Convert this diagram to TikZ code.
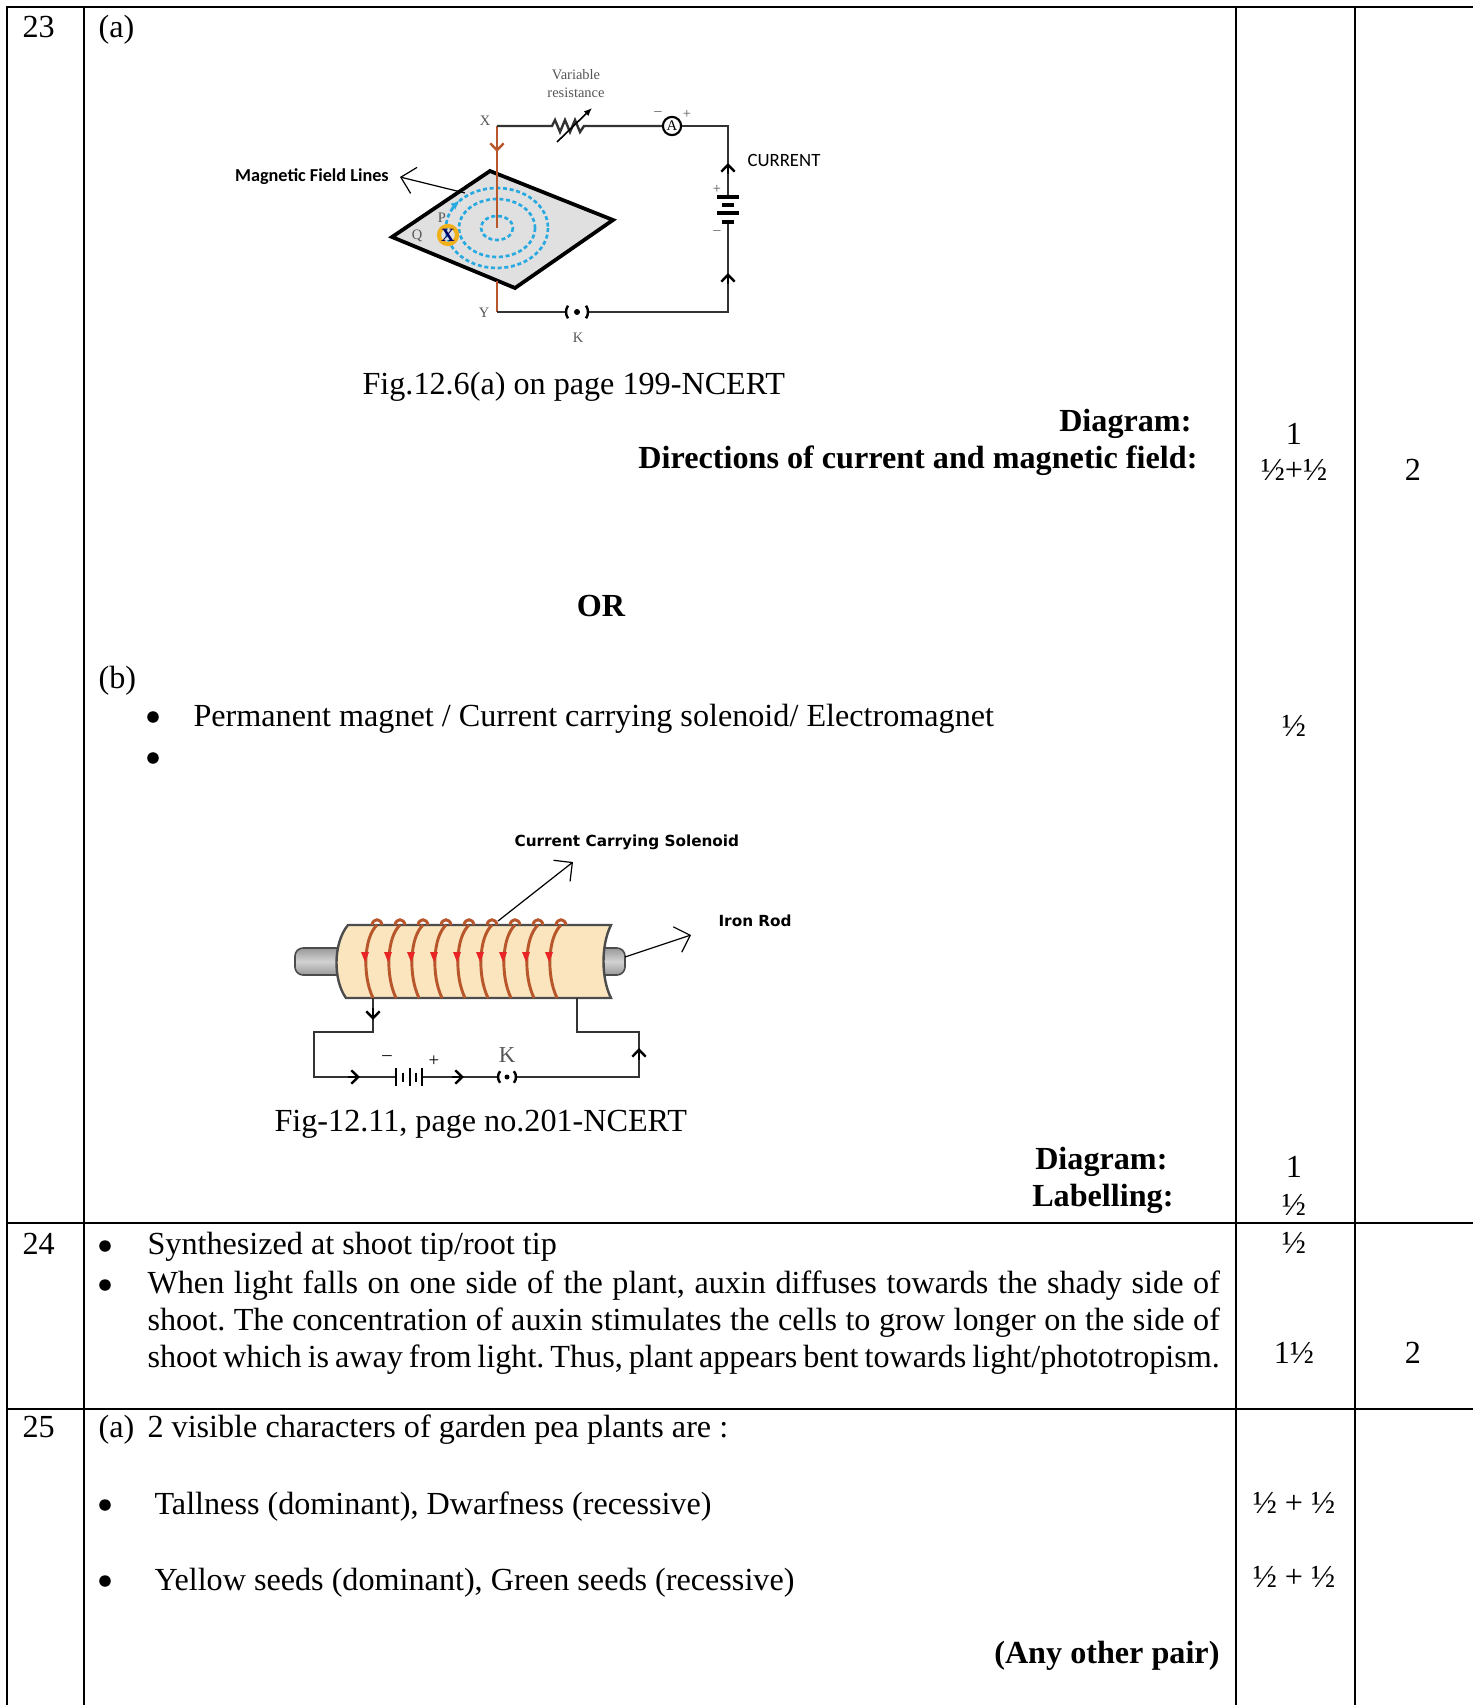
\documentclass[tikz,border=0pt]{standalone}
\usepackage{fontspec}
\setmainfont{Liberation Serif}
\newfontfamily\labelsans{Carlito}
\newfontfamily\figsans{DejaVu Sans}
\usetikzlibrary{arrows.meta}
\frenchspacing

\definecolor{wirebrown}{RGB}{184,86,44}
\definecolor{fieldblue}{RGB}{40,170,225}
\definecolor{planegray}{RGB}{224,224,224}
\definecolor{ringgold}{RGB}{240,176,28}
\definecolor{coretan}{RGB}{250,229,190}
\definecolor{coilred}{RGB}{232,36,36}
\definecolor{inkgray}{RGB}{85,85,85}

\tikzset{
  rule/.style={line width=1pt},
  wire/.style={line width=0.9pt, black!80},
  tag/.style={font=\fontsize{5.4}{6.7}\selectfont, text=inkgray, inner sep=0pt},
  flow/.style={-{Straight Barb[length=2.6pt,width=5pt]}, line width=0.9pt},
  lead/.style={line width=0.45pt, -{Straight Barb[length=5pt,width=10pt]}},
  cell/.style={anchor=base, inner sep=0pt},
  lefttext/.style={anchor=base west, inner sep=0pt},
  bulletdot/.style={circle, fill, minimum size=4.3pt, inner sep=0pt},
  boldright/.style={anchor=base east, inner sep=0pt, font=\fontsize{12}{14}\selectfont\bfseries},
}

\begin{document}
\begin{tikzpicture}[x=0.373pt, y=-0.373pt, font=\fontsize{12}{14}\selectfont]
\useasboundingbox (0,0) rectangle (1473,1705);

% Draw table rules
\draw[rule] (7,1705) -- (7,7) -- (1473,7);
\foreach \x in {84,1236,1355}
  \draw[rule] (\x,7) -- (\x,1705);
\foreach \y in {1223,1409}
  \draw[rule] (7,\y) -- (1473,\y);

% Draw question numbers
\node[lefttext] (q23) at (22,38) {23};
\node[lefttext] (q24) at (22,1254) {24};
\node[lefttext] (q25) at (22,1437) {25};

% Part (a)
\node[lefttext] (parta) at (98,38) {(a)};

% Draw the plane and field lines
\coordinate (X) at (497,126);
\coordinate (Y) at (497,312);
\coordinate (TR) at (728,126);
\coordinate (BR) at (728,312);
\draw[line width=1.4pt, fill=planegray] (392,237) -- (490,171) -- (613,220) -- (515,288) -- cycle;
\foreach \rx/\ry in {16/12, 38/29, 51/40}
  \draw[fieldblue, line width=1pt, dash pattern=on 1.5pt off 1pt] (497,228) ellipse[x radius=\rx, y radius=\ry];
\draw[fieldblue, line width=1pt, -{Latex[length=3pt,width=3pt]}] (497,228) ++(208:51 and 40) arc[start angle=208, end angle=222, x radius=51, y radius=40];

% Draw the straight conductor
\draw[wirebrown, line width=1.1pt] (X) -- (497,228);
\draw[wirebrown, line width=1.1pt] (497,281) -- (Y);
\draw[wirebrown, flow] (497,138) -- (497,152);

% Draw the circuit
\coordinate (resL) at (552,126);
\coordinate (batT) at (728,197);
\coordinate (batB) at (728,222);
\coordinate (keyL) at (566,312);
\coordinate (keyR) at (588,312);
\node[draw, circle, line width=0.8pt, minimum size=6.8pt, inner sep=0pt, font=\fontsize{5.5}{6}\selectfont] (amm) at (672,126) {A};
\draw[wire] (X) -- (resL) -- (555,120) -- (560,132) -- (565,120) -- (570,132) -- (575,120) -- (580,132) -- (584,126) -- (amm.west);
\draw[wire] (amm.east) -- (TR) -- (batT);
\draw[wire] (batB) -- (BR) -- (keyR);
\draw[wire] (keyL) -- (Y);
\draw[line width=1.3pt] (717,197) -- (739,197);
\draw[line width=1.6pt] (722,205) -- (734,205);
\draw[line width=1.3pt] (717,213) -- (739,213);
\draw[line width=1.6pt] (722,222) -- (734,222);
\draw[flow] (728,174) -- (728,163);
\draw[flow] (728,284) -- (728,273);
\draw[line width=0.9pt] (577,312) ++(145:11) arc[start angle=145, end angle=215, radius=11];
\draw[line width=0.9pt] (577,312) ++(-35:11) arc[start angle=-35, end angle=35, radius=11];
\fill (577,312) circle[radius=3];
\draw[line width=0.6pt, -{Latex[length=3pt,width=2.5pt]}] (557,142) -- (592,108);

% Circuit labels
\node[tag, align=center] (varres) at (576,84) {Variable\\resistance};
\node[tag] (amminus) at (658,114) {--};
\node[tag] (amplus) at (687,114) {+};
\node[tag] (batplus) at (717,189) {+};
\node[tag] (batminus) at (717,233) {--};
\node[tag] (lblX) at (485,121) {X};
\node[tag] (lblY) at (484,313) {Y};
\node[tag] (lblK) at (578,338) {K};
\node[tag] (lblP) at (442,218) {P};
\node[tag] (lblQ) at (417,236) {Q};
\draw[ringgold, line width=1.6pt] (448,235) circle[radius=9];
\node[font=\fontsize{7}{7}\selectfont\bfseries, text=blue!40!black, inner sep=0pt] (cross) at (448,235) {X};
\node[font=\labelsans\fontsize{7}{8}\selectfont, anchor=west, inner sep=0pt] (cur) at (747,160) {CURRENT};
\node[font=\labelsans\bfseries\fontsize{6.8}{8}\selectfont, anchor=east, inner sep=4pt] (mfl) at (400,177) {Magnetic Field Lines};
\coordinate (mflend) at (465,193);
\draw[lead] (mflend) -- (mfl.east);

% Captions and marks for (a)
\node[lefttext] (cap1) at (362,394) {Fig.12.6(a) on page 199-NCERT};
\node[boldright] (diag1) at (1192,431) {Diagram:};
\node[boldright] (dir1) at (1198,468) {Directions of current and magnetic field:};
\node[cell] (m1) at (1294,444) {1};
\node[cell] (m2) at (1294,480) {½+½};
\node[cell] (t23) at (1413,480) {2};

% OR and part (b)
\node[cell, font=\fontsize{12}{14}\selectfont\bfseries] (or) at (601,616) {OR};
\node[lefttext] (partb) at (98,688) {(b)};
\node[bulletdot] (b1) at (153,717) {};
\node[lefttext] (magnet) at (193,726) {Permanent magnet / Current carrying solenoid/ Electromagnet};
\node[bulletdot] (b2) at (153,758) {};
\node[cell] (m3) at (1294,736) {½};

% Draw the iron rod and solenoid
\shade[top color=gray!80, bottom color=gray!80, middle color=gray!35, draw=black!70, line width=0.6pt, rounded corners=3pt] (295,948) rectangle (625,975);
\draw[fill=coretan, draw=black!70, line width=0.9pt] (348,925) -- (611,925) .. controls (601,945) and (601,978) .. (611,998) -- (346,998) .. controls (333,980) and (333,943) .. (348,925) -- cycle;
\foreach \x in {377,400,...,561}
{
  \draw[wirebrown, line width=1.1pt] (\x,925) .. controls (\x-13,937) and (\x-15,975) .. (\x-4,998);
  \draw[wirebrown, line width=1.1pt] (\x-5,925) .. controls (\x-4,918) and (\x+4,918) .. (\x+5,925);
  \fill[coilred] (\x-16,952) -- (\x-8,952) -- (\x-12,962) -- cycle;
}

% Draw the solenoid circuit
\coordinate (sA) at (373,998);
\coordinate (sB) at (373,1032);
\coordinate (sC) at (314,1032);
\coordinate (sD) at (314,1077);
\coordinate (batL) at (396,1077);
\coordinate (batR) at (422,1077);
\coordinate (keyL2) at (498,1077);
\coordinate (keyR2) at (516,1077);
\coordinate (sE) at (639,1077);
\coordinate (sF) at (639,1032);
\coordinate (sG) at (577,1032);
\coordinate (sH) at (577,998);
\draw[wire] (sA) -- (sB) -- (sC) -- (sD) -- (batL);
\draw[wire] (batR) -- (keyL2);
\draw[wire] (keyR2) -- (sE) -- (sF) -- (sG) -- (sH);
\foreach \x/\h in {396/9, 403/4.5, 410/9, 416/4.5, 422/9}
  \draw[line width=0.9pt] (\x,1077-\h) -- (\x,1077+\h);
\draw[flow] (373,1008) -- (373,1020);
\draw[flow] (348,1077) -- (360,1077);
\draw[flow] (452,1077) -- (464,1077);
\draw[flow] (639,1060) -- (639,1048);
\draw[line width=0.9pt] (507,1077) ++(140:9) arc[start angle=140, end angle=220, radius=9];
\draw[line width=0.9pt] (507,1077) ++(-40:9) arc[start angle=-40, end angle=40, radius=9];
\fill (507,1077) circle[radius=2.5];
\node[font=\fontsize{8.5}{9}\selectfont, text=inkgray, inner sep=0pt] (lblK2) at (507,1055) {K};
\node[font=\fontsize{7}{8}\selectfont, inner sep=0pt] (solminus) at (387,1058) {--};
\node[font=\fontsize{7}{8}\selectfont, inner sep=0pt] (solplus) at (434,1061) {+};

% Solenoid labels
\node[font=\figsans\bfseries\fontsize{5.7}{7}\selectfont, anchor=west, inner sep=0pt] (sol) at (514,842) {Current Carrying Solenoid};
\node[font=\figsans\bfseries\fontsize{5.7}{7}\selectfont, anchor=west, inner sep=0pt] (rod) at (718,921) {Iron Rod};
\coordinate (solend) at (498,921);
\coordinate (soltip) at (573,862);
\coordinate (rodend) at (625,957);
\coordinate (rodtip) at (691,935);
\draw[lead] (solend) -- (soltip);
\draw[lead] (rodend) -- (rodtip);

% Captions and marks for (b)
\node[lefttext] (cap2) at (274,1131) {Fig-12.11, page no.201-NCERT};
\node[boldright] (diag2) at (1168,1169) {Diagram:};
\node[boldright] (lab2) at (1174,1206) {Labelling:};
\node[cell] (m4) at (1294,1177) {1};
\node[cell] (m5) at (1294,1215) {½};

% Question 24
\node[bulletdot] (b3) at (105,1246) {};
\node[lefttext] (synth) at (147,1254) {Synthesized at shoot tip/root tip};
\node[bulletdot] (b4) at (105,1285) {};
\node[lefttext] (l1) at (147,1293) {\makebox[400pt][s]{When light falls on one side of the plant, auxin diffuses towards the shady side of}};
\node[lefttext] (l2) at (147,1330) {\makebox[400pt][s]{shoot. The concentration of auxin stimulates the cells to grow longer on the side of}};
\node[lefttext] (l3) at (147,1367) {\makebox[400pt][s]{shoot which is away from light. Thus, plant appears bent towards light/phototropism.}};
\node[cell] (m6) at (1294,1253) {½};
\node[cell] (m7) at (1294,1363) {1½};
\node[cell] (t24) at (1413,1363) {2};

% Question 25
\node[lefttext] (parta25) at (98,1437) {(a)};
\node[lefttext] (pea) at (147,1437) {2 visible characters of garden pea plants are :};
\node[bulletdot] (b5) at (105,1505) {};
\node[lefttext] (tall) at (154,1514) {Tallness (dominant), Dwarfness (recessive)};
\node[cell] (m8) at (1294,1513) {½ + ½};
\node[bulletdot] (b6) at (105,1581) {};
\node[lefttext] (seed) at (154,1590) {Yellow seeds (dominant), Green seeds (recessive)};
\node[cell] (m9) at (1294,1587) {½ + ½};
\node[boldright] (other) at (1220,1663) {(Any other pair)};
\end{tikzpicture}
\end{document}
